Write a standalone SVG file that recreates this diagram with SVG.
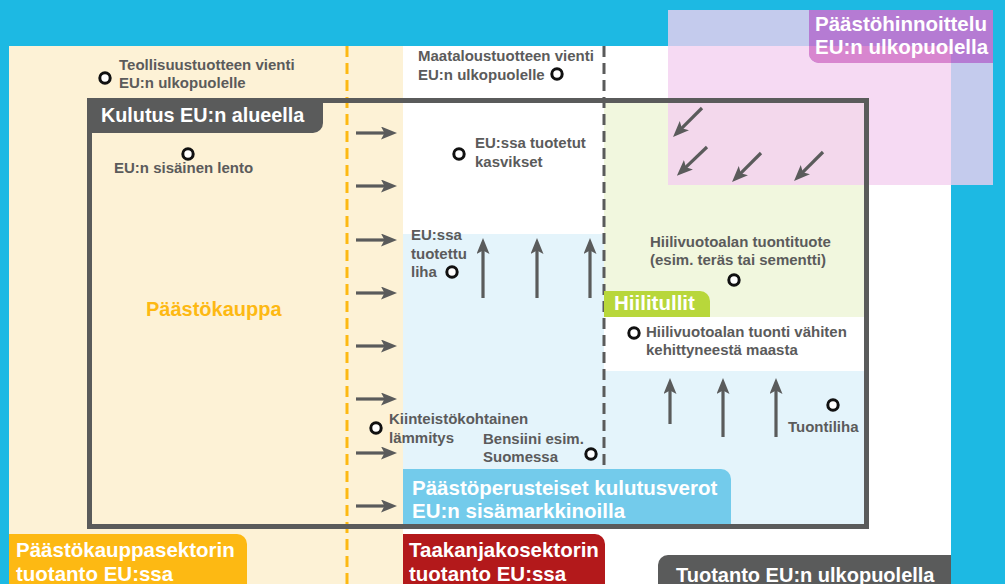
<svg xmlns="http://www.w3.org/2000/svg" width="1005" height="584" viewBox="0 0 1005 584">
  <defs>
    <style>
      .lbl { font-family: "Liberation Sans", Arial, sans-serif; font-weight: bold; font-size: 15px; fill: #5b5b5b; }
      .head { font-family: "Liberation Sans", Arial, sans-serif; font-weight: bold; font-size: 20.5px; fill: #ffffff; }
      .dot { fill: #ffffff; stroke: #111111; stroke-width: 3; }
      .arr { stroke: #5a5b5b; stroke-width: 3.2; fill: none; marker-end: url(#ah); }
    </style>
    <marker id="ah" markerUnits="userSpaceOnUse" viewBox="0 0 16 13" markerWidth="16" markerHeight="13" refX="6" refY="6.5" orient="auto">
      <path d="M0,0 L16,6.5 L0,13 L3.5,6.5 Z" fill="#5a5b5b"/>
    </marker>
  </defs>

  <!-- backdrop -->
  <rect x="0" y="0" width="1005" height="584" fill="#1db9e3"/>
  <rect x="9" y="46" width="942" height="538" fill="#ffffff"/>
  <rect x="9" y="46" width="394" height="538" fill="#fdf2d6"/>

  <!-- zone fills -->
  <rect x="403" y="234" width="201" height="294" fill="#e4f4fb"/>
  <rect x="604" y="371" width="262" height="157" fill="#e4f4fb"/>
  <rect x="604" y="100" width="262" height="217" fill="#f1f7de"/>

  <!-- carbon pricing outside EU overlay -->
  <g id="pricing-outside">
    <rect x="668" y="10" width="325" height="175" fill="#f3d0f0" fill-opacity="0.78"/>
    <path d="M809,10 H993 V63 H819 A10,10 0 0 1 809,53 Z" fill="#b57bd3"/>
    <path d="M809,46 H951 V63 H819 A10,10 0 0 1 809,53 Z" fill="#d886cf"/>
    <text class="head" x="815" y="31">Päästöhinnoittelu</text>
    <text class="head" x="815" y="54">EU:n ulkopuolella</text>
  </g>

  <!-- sector divider lines -->
  <line x1="347" y1="46" x2="347" y2="584" stroke="#fdb913" stroke-width="3" stroke-dasharray="11 6"/>
  <line x1="604" y1="46" x2="604" y2="465" stroke="#5a5b5b" stroke-width="3" stroke-dasharray="11 6"/>

  <!-- consumption within EU -->
  <g id="consumption-eu">
    <rect x="89.5" y="100.5" width="777" height="426" fill="none" stroke="#5a5b5b" stroke-width="5"/>
    <path d="M87,98 H323 V123 A10,10 0 0 1 313,133 H87 Z" fill="#5a5b5b"/>
    <text class="head" x="101" y="122" style="font-size:19.8px">Kulutus EU:n alueella</text>
  </g>

  <g id="carbon-border">
    <path d="M604,317 V291 H700 A10,10 0 0 1 710,301 V317 Z" fill="#b8d73b"/>
    <text class="head" x="614" y="310">Hiilitullit</text>
  </g>

  <g id="consumption-taxes">
    <path d="M403,469 H721 A10,10 0 0 1 731,479 V524 H403 Z" fill="#73cbeb"/>
    <text class="head" x="412" y="495">Päästöperusteiset kulutusverot</text>
    <text class="head" x="412" y="518">EU:n sisämarkkinoilla</text>
  </g>

  <text id="ets" x="146" y="316" font-family="Liberation Sans, Arial, sans-serif" font-weight="bold" font-size="20px" fill="#fdb913">Päästökauppa</text>

  <!-- connectors -->
  <g id="connectors">
    <line class="arr" x1="356" y1="133" x2="387" y2="133"/>
    <line class="arr" x1="356" y1="186" x2="387" y2="186"/>
    <line class="arr" x1="356" y1="240" x2="387" y2="240"/>
    <line class="arr" x1="356" y1="293" x2="387" y2="293"/>
    <line class="arr" x1="356" y1="346" x2="387" y2="346"/>
    <line class="arr" x1="356" y1="399" x2="387" y2="399"/>
    <line class="arr" x1="356" y1="453" x2="387" y2="453"/>
    <line class="arr" x1="356" y1="506" x2="387" y2="506"/>

    <line class="arr" x1="483" y1="298" x2="483" y2="248"/>
    <line class="arr" x1="537" y1="298" x2="537" y2="248"/>
    <line class="arr" x1="590" y1="298" x2="590" y2="248"/>

    <line class="arr" x1="670" y1="424" x2="670" y2="388"/>
    <line class="arr" x1="723" y1="437" x2="723" y2="388"/>
    <line class="arr" x1="776" y1="437" x2="776" y2="388"/>

    <line class="arr" x1="702" y1="108" x2="680.1" y2="129.9"/>
    <line class="arr" x1="707" y1="147" x2="684.1" y2="168.9"/>
    <line class="arr" x1="761" y1="153" x2="739.1" y2="174.9"/>
    <line class="arr" x1="823" y1="152" x2="801.1" y2="173.9"/>
  </g>

  <!-- labelled items -->
  <g id="industrial-export">
    <circle class="dot" cx="105" cy="78" r="5.2"/>
    <text class="lbl" x="119" y="70">Teollisuustuotteen vienti</text>
    <text class="lbl" x="119" y="88">EU:n ulkopuolelle</text>
  </g>
  <g id="agri-export">
    <circle class="dot" cx="557" cy="74" r="5.2"/>
    <text class="lbl" x="418" y="61">Maataloustuotteen vienti</text>
    <text class="lbl" x="418" y="80">EU:n ulkopuolelle</text>
  </g>
  <g id="internal-flight">
    <circle class="dot" cx="188" cy="154" r="5.2"/>
    <text class="lbl" x="114" y="173">EU:n sisäinen lento</text>
  </g>
  <g id="eu-vegetables">
    <circle class="dot" cx="459" cy="154" r="5.2"/>
    <text class="lbl" x="475" y="148">EU:ssa tuotetut</text>
    <text class="lbl" x="475" y="167">kasvikset</text>
  </g>
  <g id="eu-meat">
    <circle class="dot" cx="452" cy="272" r="5.2"/>
    <text class="lbl" x="411" y="240">EU:ssa</text>
    <text class="lbl" x="411" y="259">tuotettu</text>
    <text class="lbl" x="411" y="277">liha</text>
  </g>
  <g id="leakage-import">
    <circle class="dot" cx="734" cy="280" r="5.2"/>
    <text class="lbl" x="650" y="247">Hiilivuotoalan tuontituote</text>
    <text class="lbl" x="650" y="265">(esim. teräs tai sementti)</text>
  </g>
  <g id="ldc-import">
    <circle class="dot" cx="634" cy="333" r="5.2"/>
    <text class="lbl" x="646" y="337">Hiilivuotoalan tuonti vähiten</text>
    <text class="lbl" x="646" y="355">kehittyneestä maasta</text>
  </g>
  <g id="imported-meat">
    <circle class="dot" cx="833" cy="405" r="5.2"/>
    <text class="lbl" x="788" y="432">Tuontiliha</text>
  </g>
  <g id="building-heating">
    <circle class="dot" cx="376" cy="428" r="5.2"/>
    <text class="lbl" x="389" y="424">Kiinteistökohtainen</text>
    <text class="lbl" x="389" y="443">lämmitys</text>
  </g>
  <g id="petrol">
    <circle class="dot" cx="591" cy="454" r="5.2"/>
    <text class="lbl" x="483" y="444">Bensiini esim.</text>
    <text class="lbl" x="483" y="462">Suomessa</text>
  </g>

  <!-- sector captions -->
  <g id="ets-production">
    <path d="M9,534 H237 A10,10 0 0 1 247,544 V584 H9 Z" fill="#fdb913"/>
    <text class="head" x="16" y="557">Päästökauppasektorin</text>
    <text class="head" x="16" y="581">tuotanto EU:ssa</text>
  </g>
  <g id="esr-production">
    <path d="M403,534 H595 A10,10 0 0 1 605,544 V584 H403 Z" fill="#b3191b"/>
    <text class="head" x="409" y="557">Taakanjakosektorin</text>
    <text class="head" x="409" y="581">tuotanto EU:ssa</text>
  </g>
  <g id="non-eu-production">
    <path d="M668,555 H951 V584 H658 V565 A10,10 0 0 1 668,555 Z" fill="#5a5b5b"/>
    <text class="head" x="676" y="582" style="font-size:20px">Tuotanto EU:n ulkopuolella</text>
  </g>
</svg>
